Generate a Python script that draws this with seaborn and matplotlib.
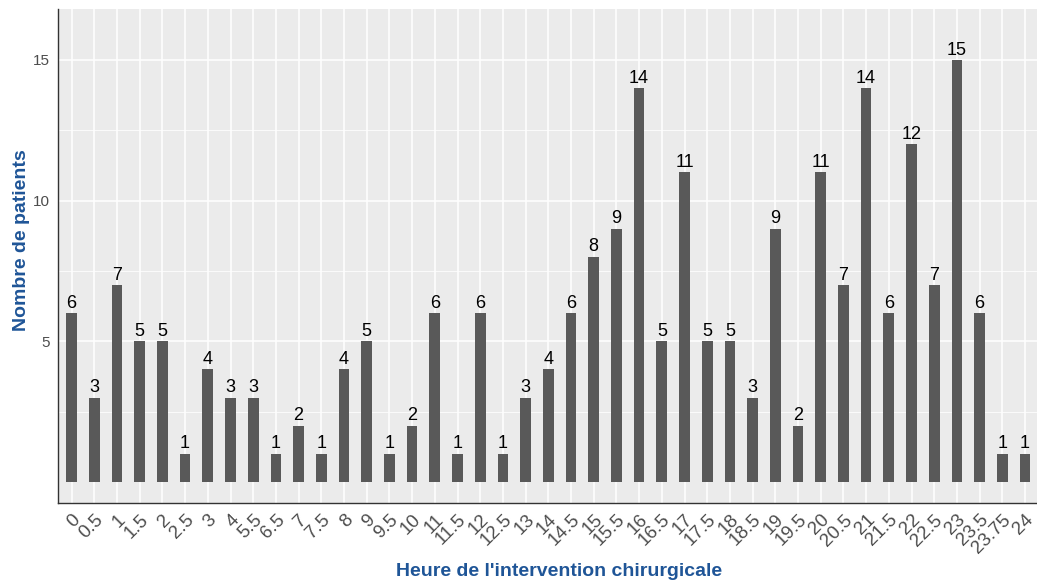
import matplotlib
matplotlib.use("Agg")
import matplotlib.pyplot as plt
import seaborn as sns
import pandas as pd
from matplotlib.ticker import FixedLocator

hours = ["0", "0.5", "1", "1.5", "2", "2.5", "3", "4", "5.5", "6.5", "7", "7.5", "8", "9",
         "9.5", "10", "11", "11.5", "12", "12.5", "13", "14", "14.5", "15", "15.5", "16",
         "16.5", "17", "17.5", "18", "18.5", "19", "19.5", "20", "20.5", "21", "21.5", "22",
         "22.5", "23", "23.5", "23.75", "24"]
patients = [6, 3, 7, 5, 5, 1, 4, 3, 3, 1, 2, 1, 4, 5, 1, 2, 6, 1, 6, 1, 3, 4, 6, 8, 9, 14,
            5, 11, 5, 5, 3, 9, 2, 11, 7, 14, 6, 12, 7, 15, 6, 1, 1]
y_ticks = [5, 10, 15]

df = pd.DataFrame({"heure": hours, "n": patients})

sns.set_theme(style="darkgrid")
plt.rcParams['font.family'] = ['Liberation Sans', 'DejaVu Sans']

W, H = 1037, 583
fig = plt.figure(figsize=(W / 100, H / 100), dpi=100)
left, right, top, bottom = 58, 1037, 9, 503
ax = fig.add_axes([left / W, 1 - bottom / H, (right - left) / W, (bottom - top) / H])
ax.set_facecolor("#EBEBEB")

sns.barplot(data=df, x="heure", y="n", order=hours, color="#595959", width=0.47,
            saturation=1, ax=ax, zorder=3)
for p in ax.patches:
    p.set_edgecolor("none")

ax.bar_label(ax.containers[0], labels=[str(v) for v in patients], padding=1,
             fontsize=13, color="black", zorder=4)

ax.set_xlim(-0.6, -0.6 + (right - left) / 22.7)
ax.set_ylim(-0.75, 16.81)
ax.yaxis.set_major_locator(FixedLocator(y_ticks))
ax.yaxis.set_minor_locator(FixedLocator([2.5, 7.5, 12.5]))
ax.grid(which="major", color="white", linewidth=1.1, zorder=0)
ax.grid(which="minor", axis="y", color="white", linewidth=0.55, zorder=0)
ax.set_axisbelow(True)

for s in ["top", "right"]:
    ax.spines[s].set_visible(False)
for s in ["left", "bottom"]:
    ax.spines[s].set_visible(True)
    ax.spines[s].set_color("#333333")
    ax.spines[s].set_linewidth(1.0)

ax.tick_params(axis="both", which="major", length=4, width=0.8, color="#333333",
               labelcolor="#4D4D4D", labelsize=11, pad=2)
ax.tick_params(axis="y", which="minor", length=0)
plt.setp(ax.get_xticklabels(), rotation=45, ha="right", va="top", rotation_mode="anchor",
         fontsize=13.5)

title_color = "#1F5597"
ax.set_xlabel("Heure de l'intervention chirurgicale", fontsize=14, fontweight="bold",
              color=title_color)
ax.set_ylabel("Nombre de patients", fontsize=14, fontweight="bold", color=title_color)
ax.xaxis.set_label_coords((559 - 58) / 979, (503 - 563) / 494)
ax.yaxis.set_label_coords((30 - 58) / 979, (503 - 240) / 494)
ax.xaxis.label.set_va("top")
ax.yaxis.label.set_va("bottom")

fig.savefig("out.png", dpi=100)
